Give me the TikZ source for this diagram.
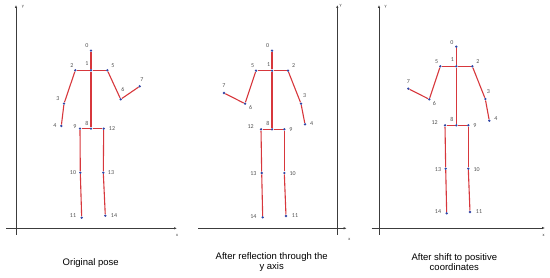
\documentclass[tikz,border=0pt]{standalone}
\usepackage{fontspec}
\setmainfont{Liberation Sans}
\newfontfamily\numfont{Carlito}
\usepackage{tikz}
\usetikzlibrary{arrows.meta}
\definecolor{limbred}{RGB}{215,55,60}
\definecolor{jointblue}{RGB}{50,70,165}
\definecolor{numgray}{RGB}{80,80,80}
\definecolor{axisgray}{RGB}{60,60,60}

\begin{document}
\begin{tikzpicture}[x=1pt,y=-1pt,
    joint/.style={circle,fill=jointblue,inner sep=0pt,minimum size=2.6pt},
    limb/.style={limbred,line width=1.1pt},
    num/.style={text=numgray,font=\numfont\fontsize{6}{7}\selectfont,inner sep=0pt},
    axis/.style={axisgray,line width=0.8pt,-{Latex[length=3pt,width=2.4pt]}},
    axlabel/.style={text=axisgray,font=\numfont\fontsize{4.5}{5}\selectfont,inner sep=0pt},
    caption/.style={font=\fontsize{9.5}{10}\selectfont,align=center,inner sep=0pt}]
			% frame of the picture
			\useasboundingbox (0,0) rectangle (550,278);
			% axes
			\coordinate (o1) at (16,235);
			\coordinate (y1) at (16,5);
			\coordinate (w1) at (6,228.3);
			\coordinate (x1) at (177,228.3);
			\draw[axis] (o1) -- (y1);
			\draw[axis] (w1) -- (x1);
			\node[axlabel] at (23,7) {y};
			\node[axlabel] at (177,235) {x};
			\coordinate (o2) at (337.3,235);
			\coordinate (y2) at (337.3,5);
			\coordinate (w2) at (198.3,228.3);
			\coordinate (x2) at (346.7,228.3);
			\draw[axis] (o2) -- (y2);
			\draw[axis] (w2) -- (x2);
			\node[axlabel] at (340.7,6) {y};
			\node[axlabel] at (349.3,239) {x};
			\coordinate (o3) at (379,235);
			\coordinate (y3) at (379,5);
			\coordinate (w3) at (371.7,228);
			\coordinate (x3) at (545,228);
			\draw[axis] (o3) -- (y3);
			\draw[axis] (w3) -- (x3);
			\node[axlabel] at (385.7,7) {y};
			\node[axlabel] at (543.7,235) {x};
			% original pose
			\foreach \n/\x/\y/\lx/\ly in {0/91/50.7/87/46, 1/91/70.3/87/64,
			    2/75.3/70.3/72/66, 3/64/103.7/58/99, 4/61.3/126/55/126,
			    5/107.3/70.3/113/66, 6/120.7/99.3/123/89, 7/139.7/86.3/142/80,
			    8/91/128.7/87/123, 9/80/128.7/75/127, 10/80.3/172.7/73/173,
			    11/81.7/217.7/73/216, 12/103.7/128.7/112/129,
			    13/103.3/172.7/111/173, 14/105.3/215.7/114/216}
			  {\node[joint] (a\n) at (\x,\y) {};
			   \node[num] (la\n) at (\lx,\ly) {\n};}
			% reflected pose
			\foreach \n/\x/\y/\lx/\ly in {0/272/50.7/267.7/46, 1/272/70.7/268.7/64.3,
			    2/288/70.7/293.7/66, 3/301/103.7/304.7/95.3, 4/305/124.3/311.7/123.3,
			    5/256/70.7/252.7/66, 6/245/103.7/250.7/107, 7/224/93/224/86,
			    8/272/129.3/268/123, 9/284.3/129.3/291/129.3, 10/284.3/173/292.7/173.3,
			    11/286/216/295/216, 12/261/129.3/250.7/126.7,
			    13/261.7/173/253.3/174, 14/262.7/217.3/253.3/216.7}
			  {\node[joint] (b\n) at (\x,\y) {};
			   \node[num] (lb\n) at (\lx,\ly) {\n};}
			% shifted pose
			\foreach \n/\x/\y/\lx/\ly in {0/456.3/46.7/452/42.3, 1/456.3/66.3/452.3/60,
			    2/472.3/66.3/478/61.7, 3/485.3/99/488.3/91.3, 4/489.3/120.7/496/119,
			    5/440.3/66.3/436.7/61.7, 6/429.3/99.3/434.3/103, 7/408.3/88.7/408.3/81.3,
			    8/456.3/125.3/452/119, 9/468.3/125.3/475/125.3, 10/468.3/168.7/476.7/169.3,
			    11/470/212/479/212, 12/445/125.3/434.7/122.7,
			    13/445.7/168.7/438/169.3, 14/446.7/213.3/438/212}
			  {\node[joint] (c\n) at (\x,\y) {};
			   \node[num] (lc\n) at (\lx,\ly) {\n};}
			% limbs
			\foreach \p in {a,b,c}
			  \foreach \s/\t in {0/1,1/2,2/3,3/4,1/5,5/6,6/7,1/8,8/9,9/10,10/11,8/12,12/13,13/14}
			    \draw[limb] (\p\s) -- (\p\t);
			% captions
			\node[caption] (cap1) at (90.7,263) {Original pose};
			\node[caption] (cap2) at (271.7,261.7) {After reflection through the\\y axis};
			\node[caption] (cap3) at (454.3,261.7) {After shift to positive\\coordinates};
		\end{tikzpicture}
\end{document}
